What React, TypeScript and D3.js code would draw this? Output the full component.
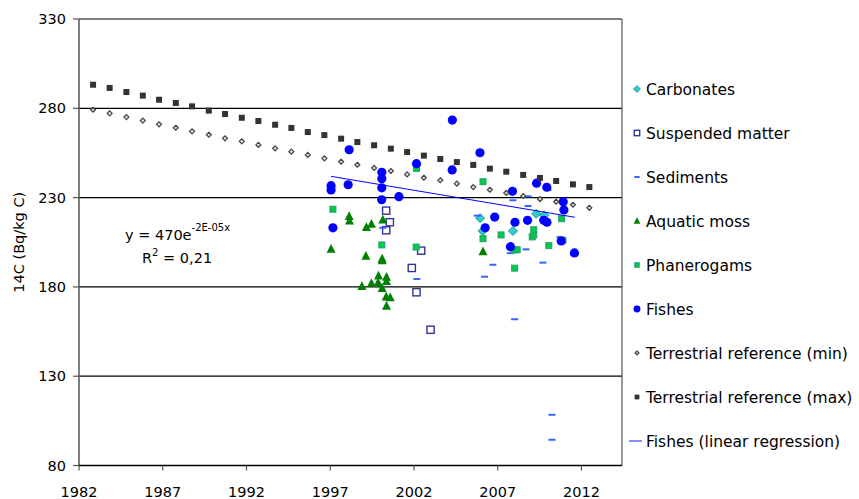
import * as d3 from "d3";

// tick labels
const yTicks = [80, 130, 180, 230, 280, 330];
const xTicks = [1982, 1987, 1992, 1997, 2002, 2007, 2012];

// series (year, 14C Bq/kg C)
const carbYears = [2005.95, 2006.1, 2007.91, 2009.3, 2009.78];
const carbVals = [218.5, 211.3, 211.3, 221.0, 220.1];

const suspYears = [2000.34, 2000.56, 2000.34, 2002.43, 2001.87, 2002.15, 2002.99];
const suspVals = [222.7, 216.2, 211.7, 200.3, 190.6, 177.0, 156.0];

const sedYears = [2000.14, 2002.17, 2005.78, 2007.91, 2008.81, 2008.81, 2008.69, 2007.75, 2006.71, 2006.21, 2009.7, 2010.0, 2010.72, 2008.01, 2010.24, 2010.24];
const sedVals = [213.1, 184.4, 219.9, 228.5, 230.7, 225.3, 201.0, 198.9, 192.4, 185.7, 193.6, 234.3, 207.9, 161.9, 108.4, 94.4];

const mossYears = [1997.05, 1998.13, 1998.15, 1999.16, 1999.46, 2000.14, 1999.13, 2000.1, 2000.1, 1999.88, 2000.36, 2000.36, 1998.89, 1999.46, 1999.86, 2000.1, 2000.34, 2000.58, 2000.36, 2006.12];
const mossVals = [201.2, 219.5, 217.1, 213.4, 215.2, 217.6, 197.3, 195.8, 194.8, 186.3, 185.5, 183.1, 180.3, 182.0, 182.4, 179.2, 174.5, 174.0, 169.3, 199.8];

const phanYears = [1997.16, 2000.08, 2002.15, 2002.13, 2006.12, 2007.2, 2006.12, 2007.97, 2008.16, 2008.01, 2009.06, 2009.15, 2009.15, 2010.05, 2010.81, 2010.89];
const phanVals = [223.5, 203.5, 246.4, 202.3, 238.9, 209.1, 207.0, 200.7, 200.8, 190.5, 208.0, 209.1, 212.0, 203.1, 218.2, 206.1];

const fishYears = [1998.13, 1997.16, 1997.05, 1997.05, 1998.07, 2000.08, 2000.08, 2000.08, 2000.07, 2001.1, 2002.15, 2004.29, 2004.28, 2005.94, 2006.25, 2006.82, 2007.76, 2007.88, 2008.03, 2008.78, 2009.32, 2009.75, 2009.93, 2009.94, 2010.79, 2010.91, 2010.95, 2011.58];
const fishVals = [256.8, 213.1, 236.7, 234.3, 237.2, 244.2, 240.6, 235.5, 228.8, 230.5, 249.0, 273.4, 245.5, 255.1, 213.1, 219.1, 202.5, 233.5, 216.2, 217.3, 238.1, 217.3, 235.8, 216.2, 205.7, 227.7, 223.1, 199.0];

const terrYears = [1982.84, 1983.83, 1984.83, 1985.81, 1986.78, 1987.78, 1988.75, 1989.75, 1990.72, 1991.72, 1992.71, 1993.71, 1994.68, 1995.66, 1996.65, 1997.65, 1998.62, 1999.62, 2000.62, 2001.59, 2002.59, 2003.57, 2004.56, 2005.54, 2006.53, 2007.51, 2008.52, 2009.52, 2010.49, 2011.49, 2012.47];
const terrMin = [279.2, 277.2, 275.1, 273.1, 271.0, 269.1, 267.1, 265.2, 263.2, 261.5, 259.5, 257.6, 255.7, 253.9, 252.0, 250.1, 248.4, 246.6, 244.9, 243.0, 241.1, 239.7, 237.8, 235.9, 234.4, 232.6, 230.9, 229.2, 227.7, 226.0, 224.3];
const terrMax = [293.2, 291.4, 289.1, 287.1, 284.8, 283.0, 281.1, 278.7, 276.8, 274.7, 272.9, 270.8, 269.0, 266.7, 265.0, 263.0, 261.1, 259.3, 257.4, 255.5, 253.5, 251.6, 249.9, 248.3, 246.2, 244.5, 242.7, 241.0, 239.3, 237.4, 235.9];

const regYears = [1997.05, 2011.6];
const regVals = [241.9, 219.0];

const legendNames = [
  "Carbonates",
  "Suspended matter",
  "Sediments",
  "Aquatic moss",
  "Phanerogams",
  "Fishes",
  "Terrestrial reference (min)",
  "Terrestrial reference (max)",
  "Fishes (linear regression)",
];

const W = 859, H = 499;
const FONT = "DejaVu Sans, Verdana, sans-serif";

const x = d3.scaleLinear().domain([1982, 2014.42]).range([79, 622]);
const y = d3.scaleLinear().domain([80, 330]).range([465.5, 19]);

function zip(xs: number[], ys: number[]) {
  return xs.map((v, i) => [v, ys[i]] as [number, number]);
}

// marker drawing
function marker(kind: string, cx: number, cy: number, key: any, small = false) {
  const k = small ? 0.75 : 1;
  switch (kind) {
    case "carb": {
      const s = 4.5 * k;
      return <path key={key} d={`M${cx},${cy - s}L${cx + s},${cy}L${cx},${cy + s}L${cx - s},${cy}Z`} fill="#33cccc" stroke="#1a9999" strokeWidth={1} />;
    }
    case "susp": {
      const s = 3.6 * k;
      return <rect key={key} x={cx - s} y={cy - s} width={2 * s} height={2 * s} fill="#fff" stroke="#333399" strokeWidth={1.4} />;
    }
    case "sed":
      return <rect key={key} x={cx - 3.5 * k} y={cy - 1} width={7 * k} height={2} fill="#3366ff" />;
    case "moss": {
      const s = 5 * k;
      return <path key={key} d={`M${cx},${cy - s}L${cx + s * 0.9},${cy + s * 0.75}L${cx - s * 0.9},${cy + s * 0.75}Z`} fill="#008000" />;
    }
    case "phan": {
      const s = 3 * k;
      return <rect key={key} x={cx - s} y={cy - s} width={2 * s} height={2 * s} fill="#00cc44" stroke="#2a9d78" strokeWidth={1} />;
    }
    case "fish":
      return <circle key={key} cx={cx} cy={cy} r={4.6 * k} fill="#0000ff" />;
    case "tmin": {
      const s = 2.5 * (small ? 0.8 : 1);
      return <path key={key} d={`M${cx},${cy - s}L${cx + s},${cy}L${cx},${cy + s}L${cx - s},${cy}Z`} fill="#ddd" stroke="#444" strokeWidth={1.2} />;
    }
    case "tmax": {
      const s = 3 * (small ? 0.8 : 1);
      return <rect key={key} x={cx - s} y={cy - s} width={2 * s} height={2 * s} fill="#333" />;
    }
    case "reg":
      return <line key={key} x1={cx - 8} x2={cx + 5} y1={cy} y2={cy} stroke="#6666ff" strokeWidth={1.5} />;
  }
  return null;
}

const series: [string, [number, number][]][] = [
  ["carb", zip(carbYears, carbVals)],
  ["susp", zip(suspYears, suspVals)],
  ["sed", zip(sedYears, sedVals)],
  ["moss", zip(mossYears, mossVals)],
  ["phan", zip(phanYears, phanVals)],
  ["fish", zip(fishYears, fishVals)],
  ["tmin", zip(terrYears, terrMin)],
  ["tmax", zip(terrYears, terrMax)],
];
const legendKinds = ["carb", "susp", "sed", "moss", "phan", "fish", "tmin", "tmax", "reg"];

export default function App() {
  const regLine = d3.line<[number, number]>().x(d => x(d[0])).y(d => y(d[1]))(zip(regYears, regVals)) || "";
  const [x0, x1] = x.range();
  const [yb, yt] = y.range();
  return (
    <svg width={W} height={H} style={{ position: "absolute", left: 0, top: 0, background: "#fff" }} fontFamily={FONT}>
      {/* gridlines */}
      {yTicks.slice(1).map(t => (
        <line key={"g" + t} x1={x0} x2={x1} y1={y(t)} y2={y(t)} stroke="#000" strokeWidth={1.2} />
      ))}
      {/* plot frame right + axes */}
      <line x1={x1} x2={x1} y1={yt} y2={yb} stroke="#555" strokeWidth={1.2} />
      <line x1={x0} x2={x0} y1={yt} y2={yb} stroke="#555" strokeWidth={1.5} />
      <line x1={x0} x2={x1} y1={yb} y2={yb} stroke="#000" strokeWidth={1.5} />
      {yTicks.map(t => (
        <g key={"yt" + t}>
          <line x1={x0 - 6} x2={x0} y1={y(t)} y2={y(t)} stroke="#555" strokeWidth={1.2} />
          <text x={66} y={y(t) + 5} textAnchor="end" fontSize={14.5}>{t}</text>
        </g>
      ))}
      {xTicks.map(t => (
        <g key={"xt" + t}>
          <line x1={x(t)} x2={x(t)} y1={yb} y2={yb + 5} stroke="#555" strokeWidth={1.2} />
          <text x={x(t)} y={497} textAnchor="middle" fontSize={14.5}>{t}</text>
        </g>
      ))}
      <text transform={`translate(24,${(yt + yb) / 2}) rotate(-90)`} textAnchor="middle" fontSize={14.5}>14C (Bq/kg C)</text>

      {/* data */}
      {series.map(([kind, pts]) => (
        <g key={kind}>{pts.map((p, i) => marker(kind, x(p[0]), y(p[1]), kind + i))}</g>
      ))}
      <path d={regLine} fill="none" stroke="#0000ff" strokeWidth={1} />

      {/* equation */}
      <text x={125} y={240} fontSize={14.5}>y = 470e<tspan dy={-9} fontSize={10}>-2E-05x</tspan></text>
      <text x={142} y={263} fontSize={14.5}>R<tspan dy={-7} fontSize={10}>2</tspan><tspan dy={7}> = 0,21</tspan></text>

      {/* legend */}
      {legendNames.map((name, i) => {
        const ly = 89 + i * 44;
        return (
          <g key={name}>
            {marker(legendKinds[i], 637, ly, "lm" + i, true)}
            <text x={646} y={ly + 5.5} fontSize={15.5}>{name}</text>
          </g>
        );
      })}
    </svg>
  );
}
